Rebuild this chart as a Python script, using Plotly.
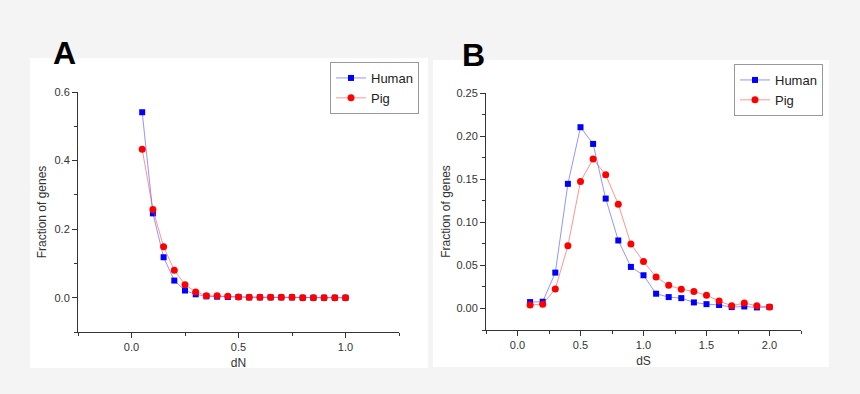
import plotly.graph_objects as go

# Panel A data (dN)
dn_x = [0.05, 0.10, 0.15, 0.20, 0.25, 0.30, 0.35, 0.40, 0.45, 0.50,
        0.55, 0.60, 0.65, 0.70, 0.75, 0.80, 0.85, 0.90, 0.95, 1.00]
dn_human = [0.541, 0.246, 0.118, 0.050, 0.021, 0.010, 0.004, 0.003, 0.002, 0.002,
            0.001, 0.001, 0.001, 0.001, 0.001, 0.000, 0.000, 0.000, 0.000, 0.000]
dn_pig = [0.433, 0.257, 0.149, 0.080, 0.038, 0.017, 0.006, 0.006, 0.004, 0.002,
          0.001, 0.001, 0.001, 0.001, 0.001, 0.000, 0.000, 0.000, 0.000, 0.000]

# Panel B data (dS)
ds_x = [0.1, 0.2, 0.3, 0.4, 0.5, 0.6, 0.7, 0.8, 0.9, 1.0,
        1.1, 1.2, 1.3, 1.4, 1.5, 1.6, 1.7, 1.8, 1.9, 2.0]
ds_human = [0.0074, 0.0078, 0.0416, 0.1446, 0.2103, 0.1909, 0.1275, 0.0789, 0.0482, 0.0385,
            0.0171, 0.0132, 0.0120, 0.0070, 0.0050, 0.0040, 0.0016, 0.0023, 0.0012, 0.0016]
ds_pig = [0.0039, 0.0050, 0.0226, 0.0727, 0.1474, 0.1734, 0.1551, 0.1209, 0.0747, 0.0544,
          0.0365, 0.0268, 0.0222, 0.0198, 0.0152, 0.0086, 0.0031, 0.0062, 0.0031, 0.0016]

W, H = 860, 394
BG = "#f4f4f4"
AX = "#333333"
FONT = "Liberation Sans, Arial, sans-serif"

def px_x(p):
    return p / W

def px_y(p):
    return 1 - p / H

fig = go.Figure()

def add_series(x, y, name, color, line_color, symbol, size, xa, ya, legend):
    fig.add_trace(go.Scatter(
        x=x, y=y, name=name, mode="lines+markers",
        line=dict(color=line_color, width=1),
        marker=dict(color=color, symbol=symbol, size=size),
        xaxis=xa, yaxis=ya, legend=legend,
        cliponaxis=False,
    ))

add_series(dn_x, dn_human, "Human", "#0000ff", "rgba(60,60,255,0.55)", "square", 6, "x", "y", "legend")
add_series(dn_x, dn_pig, "Pig", "#ff0000", "rgba(255,60,60,0.55)", "circle", 7, "x", "y", "legend")
add_series(ds_x, ds_human, "Human", "#0000ff", "rgba(60,60,255,0.55)", "square", 6, "x2", "y2", "legend2")
add_series(ds_x, ds_pig, "Pig", "#ff0000", "rgba(255,60,60,0.55)", "circle", 7, "x2", "y2", "legend2")

common_axis = dict(
    showline=True, linecolor=AX, linewidth=1, mirror=False,
    showgrid=False, zeroline=False, automargin=False,
    ticks="outside", ticklen=5, tickwidth=1, tickcolor=AX,
    tickfont=dict(family=FONT, size=11, color=AX),
    title_font=dict(family=FONT, size=12, color=AX),
)

legend_common = dict(
    xanchor="left", yanchor="top",
    bgcolor="white", bordercolor="#999999", borderwidth=1,
    font=dict(family=FONT, size=13, color="#222222"),
    tracegroupgap=0, itemwidth=30,
)

fig.update_layout(
    width=W, height=H,
    margin=dict(l=0, r=0, t=0, b=0, autoexpand=False),
    paper_bgcolor=BG, plot_bgcolor="white",
    font=dict(family=FONT, color=AX),
    xaxis=dict(common_axis, domain=[px_x(78), px_x(399)], range=[-0.25, 1.25],
               dtick=0.5, tick0=0, tickformat=".1f",
               minor=dict(ticks="outside", dtick=0.25, tick0=0, ticklen=3, tickcolor=AX),
               title=dict(text="dN", standoff=6), anchor="y"),
    yaxis=dict(common_axis, domain=[px_y(332), px_y(92)], range=[-0.1, 0.6],
               dtick=0.2, tick0=0, tickformat=".1f",
               minor=dict(ticks="outside", dtick=0.1, tick0=0, ticklen=3, tickcolor=AX),
               title=dict(text="Fraction of genes", standoff=5), anchor="x"),
    xaxis2=dict(common_axis, domain=[px_x(486), px_x(801)], range=[-0.25, 2.25],
                dtick=0.5, tick0=0, tickformat=".1f",
                minor=dict(ticks="outside", dtick=0.25, tick0=0, ticklen=3, tickcolor=AX),
                title=dict(text="dS", standoff=6), anchor="y2"),
    yaxis2=dict(common_axis, domain=[px_y(330), px_y(93)], range=[-0.025, 0.25],
                dtick=0.05, tick0=0, tickformat=".2f",
                minor=dict(ticks="outside", dtick=0.025, tick0=0, ticklen=3, tickcolor=AX),
                title=dict(text="Fraction of genes", standoff=3), anchor="x2"),
    legend=dict(legend_common, x=px_x(330), y=px_y(62)),
    legend2=dict(legend_common, x=px_x(734), y=px_y(64)),
    shapes=[
        dict(type="rect", xref="paper", yref="paper", layer="below",
             x0=px_x(30), x1=px_x(428), y0=px_y(368), y1=px_y(58),
             fillcolor="white", line=dict(width=0)),
        dict(type="rect", xref="paper", yref="paper", layer="below",
             x0=px_x(433), x1=px_x(829), y0=px_y(367), y1=px_y(60),
             fillcolor="white", line=dict(width=0)),
    ],
    annotations=[
        dict(text="<b>A</b>", xref="paper", yref="paper", x=px_x(51), y=px_y(33),
             xanchor="left", yanchor="top", showarrow=False,
             font=dict(family=FONT, size=32, color="black")),
        dict(text="<b>B</b>", xref="paper", yref="paper", x=px_x(460), y=px_y(35),
             xanchor="left", yanchor="top", showarrow=False,
             font=dict(family=FONT, size=32, color="black")),
    ],
)

fig.write_html(
    "out.html",
    config={"displayModeBar": False},
    post_script="document.body.style.margin='0';document.body.style.overflow='hidden';document.body.style.background='%s';" % BG,
)
